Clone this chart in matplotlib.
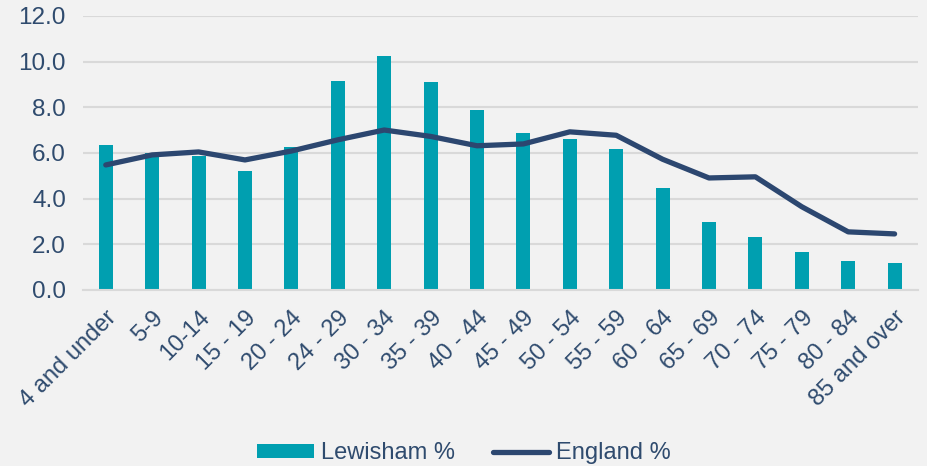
import matplotlib.pyplot as plt
import numpy as np

age_groups = ["4 and under", "5-9", "10-14", "15 - 19", "20 - 24", "24 - 29", "30 - 34",
              "35 - 39", "40 - 44", "45 - 49", "50 - 54", "55 - 59", "60 - 64", "65 - 69",
              "70 - 74", "75 - 79", "80 - 84", "85 and over"]
lewisham = [6.35, 6.0, 5.87, 5.21, 6.26, 9.15, 10.25, 9.11, 7.88, 6.88, 6.61, 6.17,
            4.47, 2.98, 2.32, 1.66, 1.27, 1.18]
england = [5.47, 5.91, 6.04, 5.69, 6.08, 6.57, 7.0, 6.72, 6.31, 6.39, 6.92, 6.77,
           5.72, 4.9, 4.95, 3.64, 2.54, 2.45]

bg = '#f2f2f2'
text_col = '#2f4b6e'
plt.rcParams['font.family'] = ['Liberation Sans', 'DejaVu Sans']

fig = plt.figure(figsize=(9.28, 4.66), dpi=100, facecolor=bg)
ax = fig.add_axes([0.089, 0.378, 0.9, 0.588], facecolor=bg)

x = np.arange(len(age_groups))
bars = ax.bar(x, lewisham, width=0.3, color='#009fb0', label='Lewisham %', zorder=2)
line, = ax.plot(x, england, color='#2c4770', lw=3.8, solid_capstyle='round',
                label='England %', zorder=3)

ax.set_xlim(-0.5, len(age_groups) - 0.5)
ax.set_ylim(0, 12)
ax.set_yticks(np.arange(0, 13, 2))
ax.set_yticklabels([f"{v:.1f}" for v in np.arange(0, 13, 2)], fontsize=17.5, color=text_col)
ax.set_xticks(x)
ax.set_xticklabels(age_groups, rotation=45, ha='right', rotation_mode='anchor',
                   fontsize=17, color=text_col)
ax.tick_params(length=0)
ax.tick_params(axis='x', pad=12)
ax.tick_params(axis='y', pad=12)
ax.grid(axis='y', color='#d9d9d9', lw=1.5, zorder=0)
for s in ['top', 'right', 'left']:
    ax.spines[s].set_visible(False)
ax.spines['bottom'].set_color('#d9d9d9')
ax.spines['bottom'].set_linewidth(1.5)

leg = fig.legend([bars, line], ['Lewisham %', 'England %'], loc='center',
                 bbox_to_anchor=(0.5, 0.027), ncol=2, frameon=False,
                 fontsize=17, handlelength=2.4, handleheight=0.55, handletextpad=0.3,
                 columnspacing=1.6)
for t in leg.get_texts():
    t.set_color(text_col)

fig.savefig('out.png', dpi=100, facecolor=bg)
